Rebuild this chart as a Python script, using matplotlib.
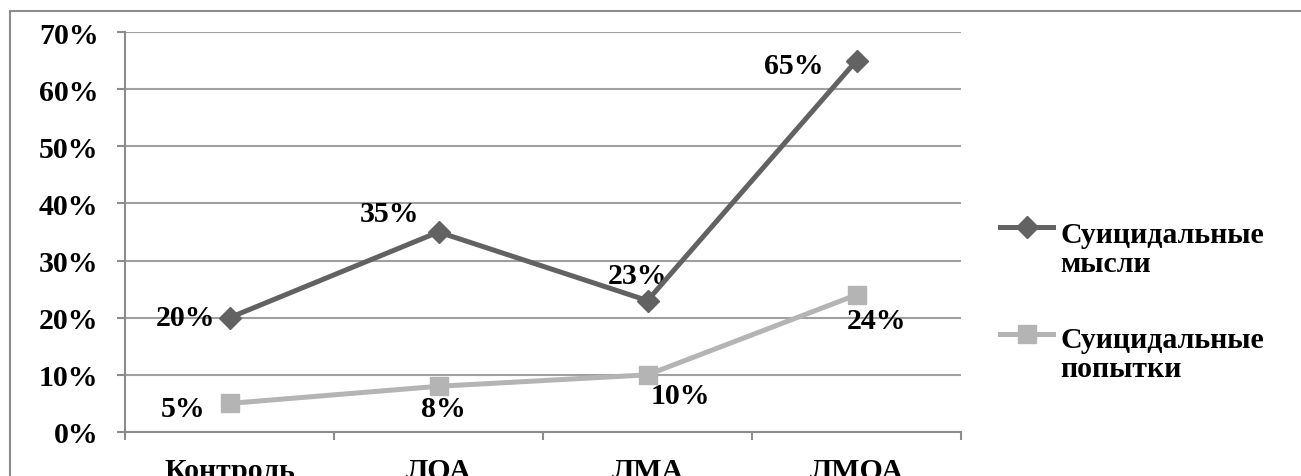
import numpy as np
import matplotlib
matplotlib.use("Agg")
import matplotlib.pyplot as plt
from matplotlib.lines import Line2D
from matplotlib.ticker import FixedLocator, NullFormatter

plt.rcParams['font.family'] = ['Liberation Serif', 'DejaVu Serif']
plt.rcParams['font.weight'] = 'bold'

groups = ['Контроль', 'ЛОА', 'ЛМА', 'ЛМОА']
thoughts = [0.20, 0.35, 0.23, 0.65]
attempts = [0.05, 0.08, 0.10, 0.24]
series_names = ['Суицидальные\nмысли', 'Суицидальные\nпопытки']

W, H = 1301, 477
FS = 21.5
fig = plt.figure(figsize=(W / 100, H / 100), dpi=100)
ax = fig.add_axes([125 / W, 1 - 433 / H, (961 - 125) / W, (433 - 33) / H])

x = np.arange(len(groups))
dark = '#626262'
light = '#b4b4b4'
styles = [dict(color=dark, lw=3.6, marker='D', ms=11, mec=dark, mfc=dark),
          dict(color=light, lw=3.6, marker='s', ms=13, mec=light, mfc=light)]
ax.plot(x, thoughts, zorder=4, **styles[0])
ax.plot(x, attempts, zorder=3, **styles[1])

ax.set_xlim(-0.5, len(groups) - 0.5)
ax.set_ylim(0, 0.7)
yt = np.arange(0, 0.71, 0.1)
ax.set_yticks(yt)
ax.set_yticklabels([f'{int(round(v * 100))}%' for v in yt])
ax.yaxis.grid(True, color='#a0a0a0', lw=1.5)
ax.set_axisbelow(True)

# category labels centred, ticks on the boundaries
ax.set_xticks(x)
ax.set_xticklabels(groups)
ax.tick_params(axis='x', length=0, pad=18, labelsize=FS)
ax.xaxis.set_minor_locator(FixedLocator(np.arange(-0.5, len(groups), 1.0)))
ax.xaxis.set_minor_formatter(NullFormatter())
ax.tick_params(axis='x', which='minor', length=6, width=1.5, color='#8c8c8c')
ax.tick_params(axis='y', length=6, width=1.5, color='#8c8c8c', pad=13, labelsize=FS)

for s in ['top', 'right']:
    ax.spines[s].set_visible(False)
for s in ['left', 'bottom']:
    ax.spines[s].set_color('#8c8c8c')
    ax.spines[s].set_linewidth(1.5)

# data labels (pixel offsets to the text baseline)
offsets_t = [(-44, -7), (-49, 11), (-10, 18), (-63, -12)]
offsets_a = [(-46, -13), (5, -30), (33, -28), (20, -33)]
for vals, offs in [(thoughts, offsets_t), (attempts, offsets_a)]:
    for xi, v, (dx, dy) in zip(x, vals, offs):
        ax.annotate(f'{int(round(v * 100))}%', (xi, v), xytext=(dx, dy),
                    textcoords='offset pixels', ha='center', va='baseline',
                    fontsize=FS, fontweight='bold')

# legend drawn by hand so the sample sits on the first text line
for name, st, ly, ty in zip(series_names, styles, [228, 335], [272, 377]):
    yf = 1 - ly / H
    fig.add_artist(Line2D([1000 / W, 1053 / W], [yf, yf], transform=fig.transFigure,
                          color=st['color'], lw=st['lw']))
    fig.add_artist(Line2D([1027 / W], [yf], transform=fig.transFigure, ls='none',
                          marker=st['marker'], ms=st['ms'], mec=st['mec'], mfc=st['mfc']))
    # baseline of a two-line text is taken from its last line
    fig.text(1060 / W, 1 - ty / H, name, fontsize=FS, fontweight='bold',
             ha='left', va='baseline', linespacing=1.1)

# outer chart frame
fig.add_artist(Line2D([10 / W, 10 / W], [0, 1 - 12 / H], transform=fig.transFigure,
                      color='#8c8c8c', lw=1.5))
fig.add_artist(Line2D([10 / W, 1], [1 - 12 / H, 1 - 12 / H], transform=fig.transFigure,
                      color='#8c8c8c', lw=1.5))

fig.savefig('out.png', dpi=100)
